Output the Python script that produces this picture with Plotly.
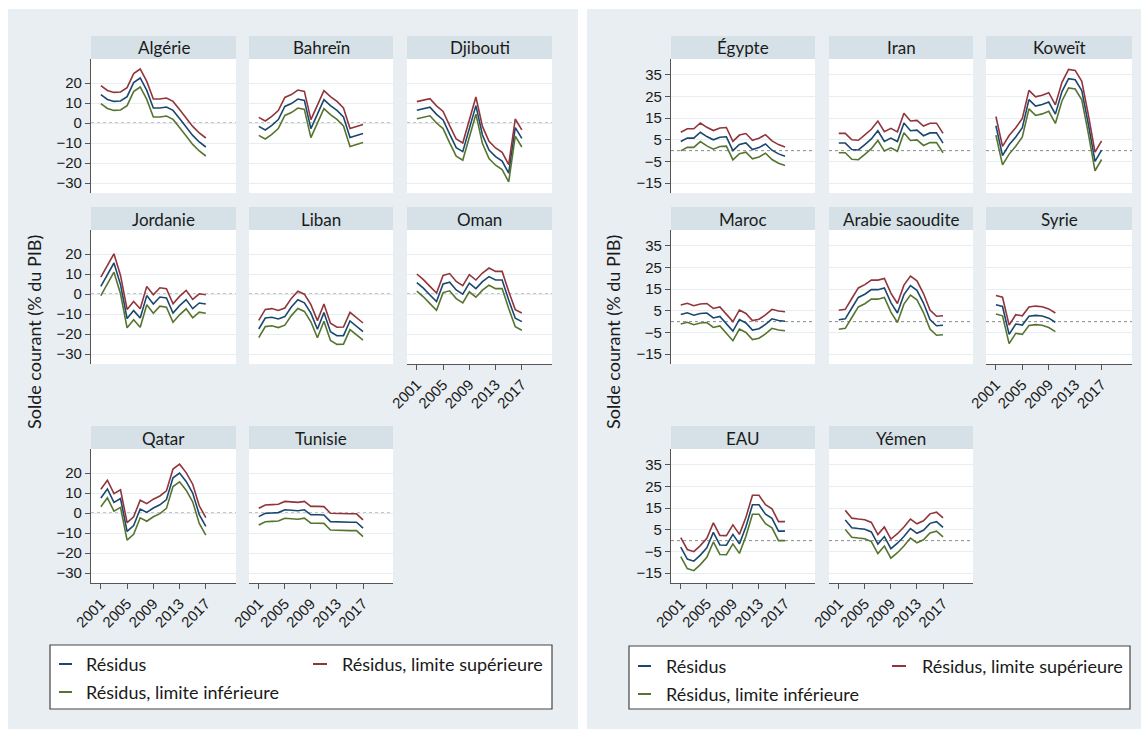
import plotly.graph_objects as go

W, H = 1143, 730

# ---------------------------------------------------------------- data
years = list(range(2001, 2018))
years_syrie = list(range(2001, 2011))
years_yemen = list(range(2002, 2018))
xtick_vals = [2001, 2005, 2009, 2013, 2017]
xtick_text = ["2001", "2005", "2009", "2013", "2017"]
ytick_left = [-30, -20, -10, 0, 10, 20]
ytick_right = [-15, -5, 5, 15, 25, 35]

algerie_res = [14.2, 11.8, 10.8, 11.0, 13.2, 20.2, 22.5, 16.3, 7.5, 7.5, 8.0, 6.3, 2.2, -2.0, -6.2, -9.5, -12.0]
algerie_sup = [18.7, 16.3, 15.3, 15.5, 17.7, 24.7, 27.0, 20.8, 12.0, 12.0, 12.5, 10.8, 6.7, 2.5, -1.7, -5.0, -7.5]
algerie_inf = [9.7, 7.3, 6.3, 6.5, 8.7, 15.7, 18.0, 11.8, 3.0, 3.0, 3.5, 1.8, -2.3, -6.5, -10.7, -14.0, -16.5]

bahrein_res = [-1.7, -3.5, -1.2, 1.7, 8.3, 9.7, 12.0, 11.3, -2.8, 4.5, 11.7, 8.7, 6.3, 3.0, -7.3, -6.2, -5.3]
bahrein_sup = [2.8, 1.0, 3.3, 6.2, 12.8, 14.2, 16.5, 15.8, 1.7, 9.0, 16.2, 13.2, 10.8, 7.5, -2.8, -1.7, -0.8]
bahrein_inf = [-6.2, -8.0, -5.7, -2.8, 3.8, 5.2, 7.5, 6.8, -7.3, 0.0, 7.2, 4.2, 1.8, -1.5, -11.8, -10.7, -9.8]

djibouti_res = [6.4, 7.0, 7.9, 4.3, 1.5, -5.6, -12.3, -14.3, -2.6, 8.7, -6.0, -13.5, -16.8, -19.0, -25.1, -2.3, -7.7]
djibouti_sup = [10.7, 11.3, 12.2, 8.6, 5.8, -1.3, -8.0, -10.0, 1.7, 13.0, -1.7, -9.2, -12.5, -14.7, -20.8, 2.0, -3.4]
djibouti_inf = [2.1, 2.7, 3.6, 0.0, -2.8, -9.9, -16.6, -18.6, -6.9, 4.4, -10.3, -17.8, -21.1, -23.3, -29.4, -6.6, -12.0]

jordanie_res = [3.8, 10.0, 15.5, 4.7, -12.3, -8.3, -12.0, -0.8, -5.0, -1.5, -2.0, -9.5, -5.8, -2.8, -7.3, -4.5, -5.0]
jordanie_sup = [8.4, 14.6, 20.1, 9.3, -7.7, -3.7, -7.4, 3.8, -0.4, 3.1, 2.6, -4.9, -1.2, 1.8, -2.7, 0.1, -0.4]
jordanie_inf = [-0.8, 5.4, 10.9, 0.1, -16.9, -12.9, -16.6, -5.4, -9.6, -6.1, -6.6, -14.1, -10.4, -7.4, -11.9, -9.1, -9.6]

liban_res = [-17.5, -12.0, -11.6, -12.5, -11.3, -6.5, -2.9, -4.4, -9.6, -17.6, -9.3, -18.9, -20.9, -20.8, -13.5, -16.3, -18.8]
liban_sup = [-13.2, -7.7, -7.3, -8.2, -7.0, -2.2, 1.4, -0.1, -5.3, -13.3, -5.0, -14.6, -16.6, -16.5, -9.2, -12.0, -14.5]
liban_inf = [-21.8, -16.3, -15.9, -16.8, -15.6, -10.8, -7.2, -8.7, -13.9, -21.9, -13.6, -23.2, -25.2, -25.1, -17.8, -20.6, -23.1]

oman_res = [5.7, 2.9, -0.5, -3.8, 5.0, 5.9, 2.0, -0.1, 5.4, 2.7, 6.2, 8.7, 7.0, 7.0, -3.0, -12.1, -13.8]
oman_sup = [10.0, 7.2, 3.8, 0.5, 9.3, 10.2, 6.3, 4.2, 9.7, 7.0, 10.5, 13.0, 11.3, 11.3, 1.3, -7.8, -9.5]
oman_inf = [1.4, -1.4, -4.8, -8.1, 0.7, 1.6, -2.3, -4.4, 1.1, -1.6, 1.9, 4.4, 2.7, 2.7, -7.3, -16.4, -18.1]

qatar_res = [7.5, 12.0, 5.3, 7.2, -9.2, -6.3, 2.0, 0.3, 2.5, 4.1, 6.7, 17.6, 20.0, 15.8, 10.0, -0.8, -6.7]
qatar_sup = [11.9, 16.4, 9.7, 11.6, -4.8, -1.9, 6.4, 4.7, 6.9, 8.5, 11.1, 22.0, 24.4, 20.2, 14.4, 3.6, -2.3]
qatar_inf = [3.1, 7.6, 0.9, 2.8, -13.6, -10.7, -2.4, -4.1, -1.9, -0.3, 2.3, 13.2, 15.6, 11.4, 5.6, -5.2, -11.1]

tunisie_res = [-1.8, -0.2, 0.0, 0.2, 1.6, 1.2, 1.1, 1.6, -0.9, -0.9, -1.0, -4.3, -4.5, -4.5, -4.6, -4.6, -7.6]
tunisie_sup = [2.4, 4.0, 4.2, 4.4, 5.8, 5.4, 5.3, 5.8, 3.3, 3.3, 3.2, -0.1, -0.3, -0.3, -0.4, -0.4, -3.4]
tunisie_inf = [-6.0, -4.4, -4.2, -4.0, -2.6, -3.0, -3.1, -2.6, -5.1, -5.1, -5.2, -8.5, -8.7, -8.7, -8.8, -8.8, -11.8]

egypte_res = [4.2, 5.8, 5.8, 8.5, 6.5, 5.0, 6.2, 6.4, 0.0, 2.9, 3.6, 0.5, 1.4, 3.1, 0.2, -1.5, -2.6]
egypte_sup = [8.5, 10.1, 10.1, 12.8, 10.8, 9.3, 10.5, 10.7, 4.3, 7.2, 7.9, 4.8, 5.7, 7.4, 4.5, 2.8, 1.7]
egypte_inf = [-0.1, 1.5, 1.5, 4.2, 2.2, 0.7, 1.9, 2.1, -4.3, -1.4, -0.7, -3.8, -2.9, -1.2, -4.1, -5.8, -6.9]

iran_res = [3.5, 3.5, 0.5, 0.3, 2.8, 5.4, 9.2, 4.3, 5.8, 4.2, 12.8, 9.2, 9.5, 6.9, 8.2, 8.2, 3.5]
iran_sup = [8.0, 8.0, 5.0, 4.8, 7.3, 9.9, 13.7, 8.8, 10.3, 8.7, 17.3, 13.7, 14.0, 11.4, 12.7, 12.7, 8.0]
iran_inf = [-1.0, -1.0, -4.0, -4.2, -1.7, 0.9, 4.7, -0.2, 1.3, -0.3, 8.3, 4.7, 5.0, 2.4, 3.7, 3.7, -1.0]

koweit_res = [11.5, -2.3, 2.7, 6.3, 10.6, 23.6, 20.6, 21.3, 22.5, 16.9, 27.3, 33.3, 32.8, 27.8, 12.1, -5.0, 0.2]
koweit_sup = [15.8, 2.0, 7.0, 10.6, 14.9, 27.9, 24.9, 25.6, 26.8, 21.2, 31.6, 37.6, 37.1, 32.1, 16.4, -0.7, 4.5]
koweit_inf = [7.2, -6.6, -1.6, 2.0, 6.3, 19.3, 16.3, 17.0, 18.2, 12.6, 23.0, 29.0, 28.5, 23.5, 7.8, -9.3, -4.1]

maroc_res = [3.3, 4.1, 3.0, 3.8, 4.0, 1.7, 2.4, -1.0, -4.4, 1.0, -0.6, -3.9, -3.3, -1.3, 1.3, 0.5, 0.2]
maroc_sup = [7.7, 8.5, 7.4, 8.2, 8.4, 6.1, 6.8, 3.4, 0.0, 5.4, 3.8, 0.5, 1.1, 3.1, 5.7, 4.9, 4.6]
maroc_inf = [-1.1, -0.3, -1.4, -0.6, -0.4, -2.7, -2.0, -5.4, -8.8, -3.4, -5.0, -8.3, -7.7, -5.7, -3.1, -3.9, -4.2]

arabie_res = [0.9, 1.3, 6.3, 11.2, 12.7, 14.8, 14.8, 15.6, 8.8, 4.0, 12.5, 16.7, 14.5, 8.6, 1.0, -1.9, -1.7]
arabie_sup = [5.3, 5.7, 10.7, 15.6, 17.1, 19.2, 19.2, 20.0, 13.2, 8.4, 16.9, 21.1, 18.9, 13.0, 5.4, 2.5, 2.7]
arabie_inf = [-3.5, -3.1, 1.9, 6.8, 8.3, 10.4, 10.4, 11.2, 4.4, -0.4, 8.1, 12.3, 10.1, 4.2, -3.4, -6.3, -6.1]

syrie_res = [7.8, 7.0, -5.9, -1.1, -1.6, 2.5, 2.9, 2.6, 1.6, -0.3]
syrie_sup = [12.1, 11.3, -1.6, 3.2, 2.7, 6.8, 7.2, 6.9, 5.9, 4.0]
syrie_inf = [3.5, 2.7, -10.2, -5.4, -5.9, -1.8, -1.4, -1.7, -2.7, -4.6]

eau_res = [-3.0, -8.5, -9.5, -6.7, -3.3, 3.8, -2.0, -2.1, 2.9, -1.5, 6.4, 16.6, 16.6, 12.2, 10.3, 4.4, 4.4]
eau_sup = [1.4, -4.1, -5.1, -2.3, 1.1, 8.2, 2.4, 2.3, 7.3, 2.9, 10.8, 21.0, 21.0, 16.6, 14.7, 8.8, 8.8]
eau_inf = [-7.4, -12.9, -13.9, -11.1, -7.7, -0.6, -6.4, -6.5, -1.5, -5.9, 2.0, 12.2, 12.2, 7.8, 5.9, 0.0, 0.0]

yemen_res = [9.6, 6.0, 5.6, 5.3, 4.0, -1.6, 1.9, -3.7, -1.2, 1.9, 5.6, 3.4, 4.8, 8.0, 8.8, 6.1]
yemen_sup = [14.0, 10.4, 10.0, 9.7, 8.4, 2.8, 6.3, 0.7, 3.2, 6.3, 10.0, 7.8, 9.2, 12.4, 13.2, 10.5]
yemen_inf = [5.2, 1.6, 1.2, 0.9, -0.4, -6.0, -2.5, -8.1, -5.6, -2.5, 1.2, -1.0, 0.4, 3.6, 4.4, 1.7]

legend_labels = ["Résidus", "Résidus, limite supérieure", "Résidus, limite inférieure"]
y_title = "Solde courant (% du PIB)"

# ---------------------------------------------------------------- styling
C_RES, C_SUP, C_INF = "#1a476f", "#90353b", "#55752f"
BG_PANEL = "#e8eef2"
BG_STRIP = "#d5e0e7"
GRID = "#e7eef1"
AXIS = "#555555"
TXT = "#1a1a1a"
TITLE_FONT = "Lato"
TICK_FONT = "Liberation Sans"

# (title, years, res, sup, inf, side, row, col, has_xaxis)
panels = [
    ("Algérie", years, algerie_res, algerie_sup, algerie_inf, 0, 0, 0, False),
    ("Bahreïn", years, bahrein_res, bahrein_sup, bahrein_inf, 0, 0, 1, False),
    ("Djibouti", years, djibouti_res, djibouti_sup, djibouti_inf, 0, 0, 2, False),
    ("Jordanie", years, jordanie_res, jordanie_sup, jordanie_inf, 0, 1, 0, False),
    ("Liban", years, liban_res, liban_sup, liban_inf, 0, 1, 1, False),
    ("Oman", years, oman_res, oman_sup, oman_inf, 0, 1, 2, True),
    ("Qatar", years, qatar_res, qatar_sup, qatar_inf, 0, 2, 0, True),
    ("Tunisie", years, tunisie_res, tunisie_sup, tunisie_inf, 0, 2, 1, True),
    ("Égypte", years, egypte_res, egypte_sup, egypte_inf, 1, 0, 0, False),
    ("Iran", years, iran_res, iran_sup, iran_inf, 1, 0, 1, False),
    ("Koweït", years, koweit_res, koweit_sup, koweit_inf, 1, 0, 2, False),
    ("Maroc", years, maroc_res, maroc_sup, maroc_inf, 1, 1, 0, False),
    ("Arabie saoudite", years, arabie_res, arabie_sup, arabie_inf, 1, 1, 1, False),
    ("Syrie", years_syrie, syrie_res, syrie_sup, syrie_inf, 1, 1, 2, True),
    ("EAU", years, eau_res, eau_sup, eau_inf, 1, 2, 0, True),
    ("Yémen", years_yemen, yemen_res, yemen_sup, yemen_inf, 1, 2, 1, True),
]

# pixel geometry of the two facet blocks
col_px = {0: [(91, 236), (249, 393), (407, 552)],
          1: [(671, 815), (829, 973), (986, 1132)]}
strip_top = [36, 207, 426]
STRIP_H = 23
PLOT_H = 134
panel_px = {0: (8, 578), 1: (587, 1141)}
y_ranges = {0: [-35, 32], 1: [-19.6, 42.4]}
y_ticks = {0: ytick_left, 1: ytick_right}
x_range = [1999.5, 2021.6]


def fx(p):
    return p / W


def fy(p):
    return 1 - p / H


fig = go.Figure()
shapes = []
annotations = []
layout = {}

# grey background blocks
for side, (x0, x1) in panel_px.items():
    shapes.append(dict(type="rect", xref="paper", yref="paper", layer="below",
                       x0=fx(x0), x1=fx(x1), y0=fy(729), y1=fy(9),
                       fillcolor=BG_PANEL, line=dict(width=0)))

for i, (title, yrs, res, sup, inf, side, row, col, has_x) in enumerate(panels, start=1):
    xa = "x" if i == 1 else f"x{i}"
    ya = "y" if i == 1 else f"y{i}"
    xl, xr = col_px[side][col]
    top = strip_top[row] + STRIP_H
    bot = top + PLOT_H

    # white plot region and header strip
    shapes.append(dict(type="rect", xref="paper", yref="paper", layer="below",
                       x0=fx(xl), x1=fx(xr), y0=fy(bot), y1=fy(top),
                       fillcolor="white", line=dict(width=0)))
    shapes.append(dict(type="rect", xref="paper", yref="paper", layer="below",
                       x0=fx(xl), x1=fx(xr), y0=fy(top), y1=fy(strip_top[row]),
                       fillcolor=BG_STRIP, line=dict(width=0)))
    annotations.append(dict(text=title, xref="paper", yref="paper",
                            x=fx((xl + xr) / 2), y=fy(strip_top[row] + STRIP_H / 2 + 0.5),
                            xanchor="center", yanchor="middle", showarrow=False,
                            font=dict(family=TITLE_FONT, size=17, color=TXT)))
    # dotted reference line at zero
    shapes.append(dict(type="line", xref=f"{xa} domain", yref=ya, layer="below",
                       x0=0, x1=1, y0=0, y1=0,
                       line=dict(color="#8a8a8a", width=1, dash="dot")))

    for vals, color, name in ((res, C_RES, legend_labels[0]),
                              (sup, C_SUP, legend_labels[1]),
                              (inf, C_INF, legend_labels[2])):
        fig.add_trace(go.Scatter(x=yrs, y=vals, mode="lines", name=name,
                                 line=dict(color=color, width=1.6),
                                 xaxis=xa, yaxis=ya, showlegend=False,
                                 hoverinfo="x+y"))

    key = xa.replace("x", "xaxis")
    layout[key] = dict(domain=[fx(xl), fx(xr)], range=x_range, anchor=ya,
                       automargin=False,
                       showgrid=False, zeroline=False, fixedrange=True,
                       tickvals=xtick_vals, ticktext=xtick_text,
                       showticklabels=has_x, showline=has_x,
                       linecolor=AXIS, linewidth=1.2,
                       ticks="outside" if has_x else "", ticklen=5,
                       tickcolor=AXIS, tickangle=-45,
                       tickfont=dict(family=TICK_FONT, size=15, color=TXT))
    key = ya.replace("y", "yaxis")
    layout[key] = dict(domain=[fy(bot), fy(top)], range=y_ranges[side], anchor=xa,
                       automargin=False,
                       showgrid=True, gridcolor=GRID, gridwidth=1,
                       zeroline=False, fixedrange=True,
                       tickvals=y_ticks[side],
                       showticklabels=(col == 0), showline=(col == 0),
                       linecolor=AXIS, linewidth=1.2,
                       ticks="outside" if col == 0 else "", ticklen=5,
                       tickcolor=AXIS,
                       tickfont=dict(family=TICK_FONT, size=15, color=TXT))

# vertical axis titles
for xc in (34, 613):
    annotations.append(dict(text=y_title, xref="paper", yref="paper",
                            x=fx(xc), y=fy(332), xanchor="center", yanchor="middle",
                            textangle=-90, showarrow=False,
                            font=dict(family=TITLE_FONT, size=18, color=TXT)))

# legend boxes, drawn per block
legend_geo = {
    0: dict(box=(50, 552, 645, 709), rows=(664, 692), c1=(59, 72, 84), c2=(313, 327, 340)),
    1: dict(box=(629, 1130, 646, 709), rows=(666, 694), c1=(638, 651, 664), c2=(892, 906, 920)),
}
for side, g in legend_geo.items():
    bx0, bx1, by0, by1 = g["box"]
    shapes.append(dict(type="rect", xref="paper", yref="paper", layer="above",
                       x0=fx(bx0), x1=fx(bx1), y0=fy(by1), y1=fy(by0),
                       fillcolor="white", line=dict(color="#444444", width=1.2)))
    entries = [(g["c1"], g["rows"][0], C_RES, legend_labels[0]),
               (g["c2"], g["rows"][0], C_SUP, legend_labels[1]),
               (g["c1"], g["rows"][1], C_INF, legend_labels[2])]
    for (lx0, lx1, tx), ry, color, label in entries:
        shapes.append(dict(type="line", xref="paper", yref="paper", layer="above",
                           x0=fx(lx0), x1=fx(lx1), y0=fy(ry), y1=fy(ry),
                           line=dict(color=color, width=2)))
        annotations.append(dict(text=label, xref="paper", yref="paper",
                                x=fx(tx), y=fy(ry), xanchor="left", yanchor="middle",
                                showarrow=False,
                                font=dict(family=TITLE_FONT, size=18, color=TXT)))

fig.update_layout(
    template="none",
    width=W, height=H,
    margin=dict(l=0, r=0, t=0, b=0, pad=0, autoexpand=False),
    paper_bgcolor="white",
    plot_bgcolor="rgba(0,0,0,0)",
    showlegend=False,
    shapes=shapes,
    annotations=annotations,
    **layout,
)

fig.write_html("out.html", config={"displayModeBar": False})
